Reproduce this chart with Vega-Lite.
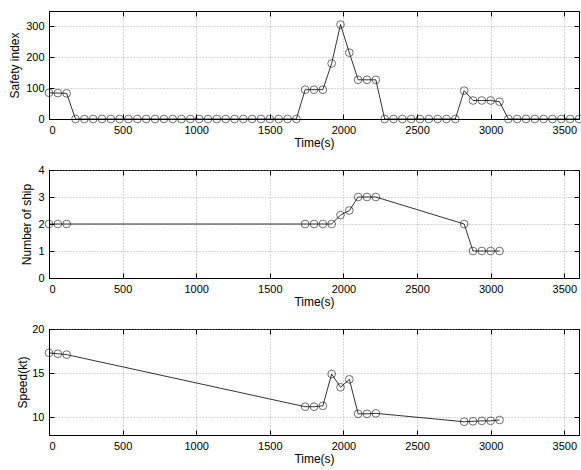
{
  "$schema": "https://vega.github.io/schema/vega-lite/v6.json",
  "autosize": {"type": "pad"},
  "padding": {"left": 8, "top": 10, "right": 2, "bottom": 2},
  "bounds": "flush",
  "spacing": 51,
  "background": "white",
  "config": {
    "font": "Liberation Sans",
    "view": {"stroke": "black", "strokeWidth": 1},
    "style": {"guide-title": {"fontWeight": "normal"}},
    "axis": {
      "labelFont": "Liberation Sans",
      "titleFont": "Liberation Sans",
      "labelFontSize": 11,
      "titleFontSize": 12,
      "titleFontWeight": "normal",
      "labelColor": "black",
      "titleColor": "black",
      "domainColor": "black",
      "tickColor": "black",
      "tickSize": -5,
      "labelPadding": 10,
      "gridColor": "#999999",
      "gridDash": [1, 2],
      "gridOpacity": 1,
      "gridWidth": 0.8,
      "format": "d"
    }
  },
  "datasets": {
    "safety": [
      {"t": 0, "v": 85}, {"t": 60, "v": 84}, {"t": 120, "v": 83},
      {"t": 180, "v": 0}, {"t": 240, "v": 0}, {"t": 300, "v": 0}, {"t": 360, "v": 0}, {"t": 420, "v": 0},
      {"t": 480, "v": 0}, {"t": 540, "v": 0}, {"t": 600, "v": 0}, {"t": 660, "v": 0}, {"t": 720, "v": 0},
      {"t": 780, "v": 0}, {"t": 840, "v": 0}, {"t": 900, "v": 0}, {"t": 960, "v": 0}, {"t": 1020, "v": 0},
      {"t": 1080, "v": 0}, {"t": 1140, "v": 0}, {"t": 1200, "v": 0}, {"t": 1260, "v": 0}, {"t": 1320, "v": 0},
      {"t": 1380, "v": 0}, {"t": 1440, "v": 0}, {"t": 1500, "v": 0}, {"t": 1560, "v": 0}, {"t": 1620, "v": 0},
      {"t": 1680, "v": 0}, {"t": 1740, "v": 95}, {"t": 1800, "v": 95}, {"t": 1860, "v": 95},
      {"t": 1920, "v": 180}, {"t": 1980, "v": 306}, {"t": 2040, "v": 215}, {"t": 2100, "v": 127},
      {"t": 2160, "v": 127}, {"t": 2220, "v": 127}, {"t": 2280, "v": 0}, {"t": 2340, "v": 0},
      {"t": 2400, "v": 0}, {"t": 2460, "v": 0}, {"t": 2520, "v": 0}, {"t": 2580, "v": 0}, {"t": 2640, "v": 0},
      {"t": 2700, "v": 0}, {"t": 2760, "v": 0}, {"t": 2820, "v": 92}, {"t": 2880, "v": 60},
      {"t": 2940, "v": 60}, {"t": 3000, "v": 60}, {"t": 3060, "v": 56}, {"t": 3120, "v": 0},
      {"t": 3180, "v": 0}, {"t": 3240, "v": 0}, {"t": 3300, "v": 0}, {"t": 3360, "v": 0}, {"t": 3420, "v": 0},
      {"t": 3480, "v": 0}, {"t": 3540, "v": 0}, {"t": 3600, "v": 0}
    ],
    "ships": [
      {"t": 0, "v": 2}, {"t": 60, "v": 2}, {"t": 120, "v": 2},
      {"t": 1740, "v": 2}, {"t": 1800, "v": 2}, {"t": 1860, "v": 2}, {"t": 1920, "v": 2},
      {"t": 1980, "v": 2.33}, {"t": 2040, "v": 2.5}, {"t": 2100, "v": 3}, {"t": 2160, "v": 3},
      {"t": 2220, "v": 3}, {"t": 2820, "v": 2}, {"t": 2880, "v": 1}, {"t": 2940, "v": 1},
      {"t": 3000, "v": 1}, {"t": 3060, "v": 1}
    ],
    "speed": [
      {"t": 0, "v": 17.3}, {"t": 60, "v": 17.2}, {"t": 120, "v": 17.1},
      {"t": 1740, "v": 11.2}, {"t": 1800, "v": 11.2}, {"t": 1860, "v": 11.3}, {"t": 1920, "v": 14.9},
      {"t": 1980, "v": 13.4}, {"t": 2040, "v": 14.3}, {"t": 2100, "v": 10.4}, {"t": 2160, "v": 10.4},
      {"t": 2220, "v": 10.45}, {"t": 2820, "v": 9.5}, {"t": 2880, "v": 9.55}, {"t": 2940, "v": 9.6},
      {"t": 3000, "v": 9.6}, {"t": 3060, "v": 9.7}
    ]
  },
  "vconcat": [
    {
      "width": 530, "height": 108,
      "data": {"name": "safety"},
      "resolve": {"axis": {"x": "independent", "y": "independent"}},
      "layer": [
        {
          "mark": {"type": "line", "color": "black", "strokeWidth": 0.8},
          "encoding": {
            "x": {"field": "t", "type": "quantitative", "scale": {"domain": [0, 3600], "nice": false},
                  "axis": {"title": "Time(s)", "values": [0, 500, 1000, 1500, 2000, 2500, 3000, 3500], "grid": true, "titlePadding": 2}},
            "y": {"field": "v", "type": "quantitative", "scale": {"domain": [0, 350], "nice": false},
                  "axis": {"title": "Safety index", "values": [0, 100, 200, 300], "grid": true, "titlePadding": 4}}
          }
        },
        {
          "mark": {"type": "point", "shape": "circle", "filled": false, "color": "black", "size": 60, "strokeWidth": 0.8},
          "encoding": {
            "x": {"field": "t", "type": "quantitative", "scale": {"domain": [0, 3600], "nice": false},
                  "axis": {"orient": "top", "title": null, "labels": false, "domain": false, "grid": false, "values": [0, 500, 1000, 1500, 2000, 2500, 3000, 3500]}},
            "y": {"field": "v", "type": "quantitative", "scale": {"domain": [0, 350], "nice": false},
                  "axis": {"orient": "right", "title": null, "labels": false, "domain": false, "grid": false, "values": [0, 100, 200, 300]}}
          }
        }
      ]
    },
    {
      "width": 530, "height": 108,
      "data": {"name": "ships"},
      "resolve": {"axis": {"x": "independent", "y": "independent"}},
      "layer": [
        {
          "mark": {"type": "line", "color": "black", "strokeWidth": 0.8},
          "encoding": {
            "x": {"field": "t", "type": "quantitative", "scale": {"domain": [0, 3600], "nice": false},
                  "axis": {"title": "Time(s)", "values": [0, 500, 1000, 1500, 2000, 2500, 3000, 3500], "grid": true, "titlePadding": 2}},
            "y": {"field": "v", "type": "quantitative", "scale": {"domain": [0, 4], "nice": false},
                  "axis": {"title": "Number of ship", "values": [0, 1, 2, 3, 4], "grid": true, "titlePadding": 4}}
          }
        },
        {
          "mark": {"type": "point", "shape": "circle", "filled": false, "color": "black", "size": 60, "strokeWidth": 0.8},
          "encoding": {
            "x": {"field": "t", "type": "quantitative", "scale": {"domain": [0, 3600], "nice": false},
                  "axis": {"orient": "top", "title": null, "labels": false, "domain": false, "grid": false, "values": [0, 500, 1000, 1500, 2000, 2500, 3000, 3500]}},
            "y": {"field": "v", "type": "quantitative", "scale": {"domain": [0, 4], "nice": false},
                  "axis": {"orient": "right", "title": null, "labels": false, "domain": false, "grid": false, "values": [0, 1, 2, 3, 4]}}
          }
        }
      ]
    },
    {
      "width": 530, "height": 106,
      "data": {"name": "speed"},
      "resolve": {"axis": {"x": "independent", "y": "independent"}},
      "layer": [
        {
          "mark": {"type": "line", "color": "black", "strokeWidth": 0.8},
          "encoding": {
            "x": {"field": "t", "type": "quantitative", "scale": {"domain": [0, 3600], "nice": false},
                  "axis": {"title": "Time(s)", "values": [0, 500, 1000, 1500, 2000, 2500, 3000, 3500], "grid": true, "titlePadding": 2}},
            "y": {"field": "v", "type": "quantitative", "scale": {"domain": [8, 20], "nice": false, "zero": false},
                  "axis": {"title": "Speed(kt)", "values": [10, 15, 20], "grid": true, "titlePadding": 2}}
          }
        },
        {
          "mark": {"type": "point", "shape": "circle", "filled": false, "color": "black", "size": 60, "strokeWidth": 0.8},
          "encoding": {
            "x": {"field": "t", "type": "quantitative", "scale": {"domain": [0, 3600], "nice": false},
                  "axis": {"orient": "top", "title": null, "labels": false, "domain": false, "grid": false, "values": [0, 500, 1000, 1500, 2000, 2500, 3000, 3500]}},
            "y": {"field": "v", "type": "quantitative", "scale": {"domain": [8, 20], "nice": false, "zero": false},
                  "axis": {"orient": "right", "title": null, "labels": false, "domain": false, "grid": false, "values": [10, 15, 20]}}
          }
        }
      ]
    }
  ]
}
